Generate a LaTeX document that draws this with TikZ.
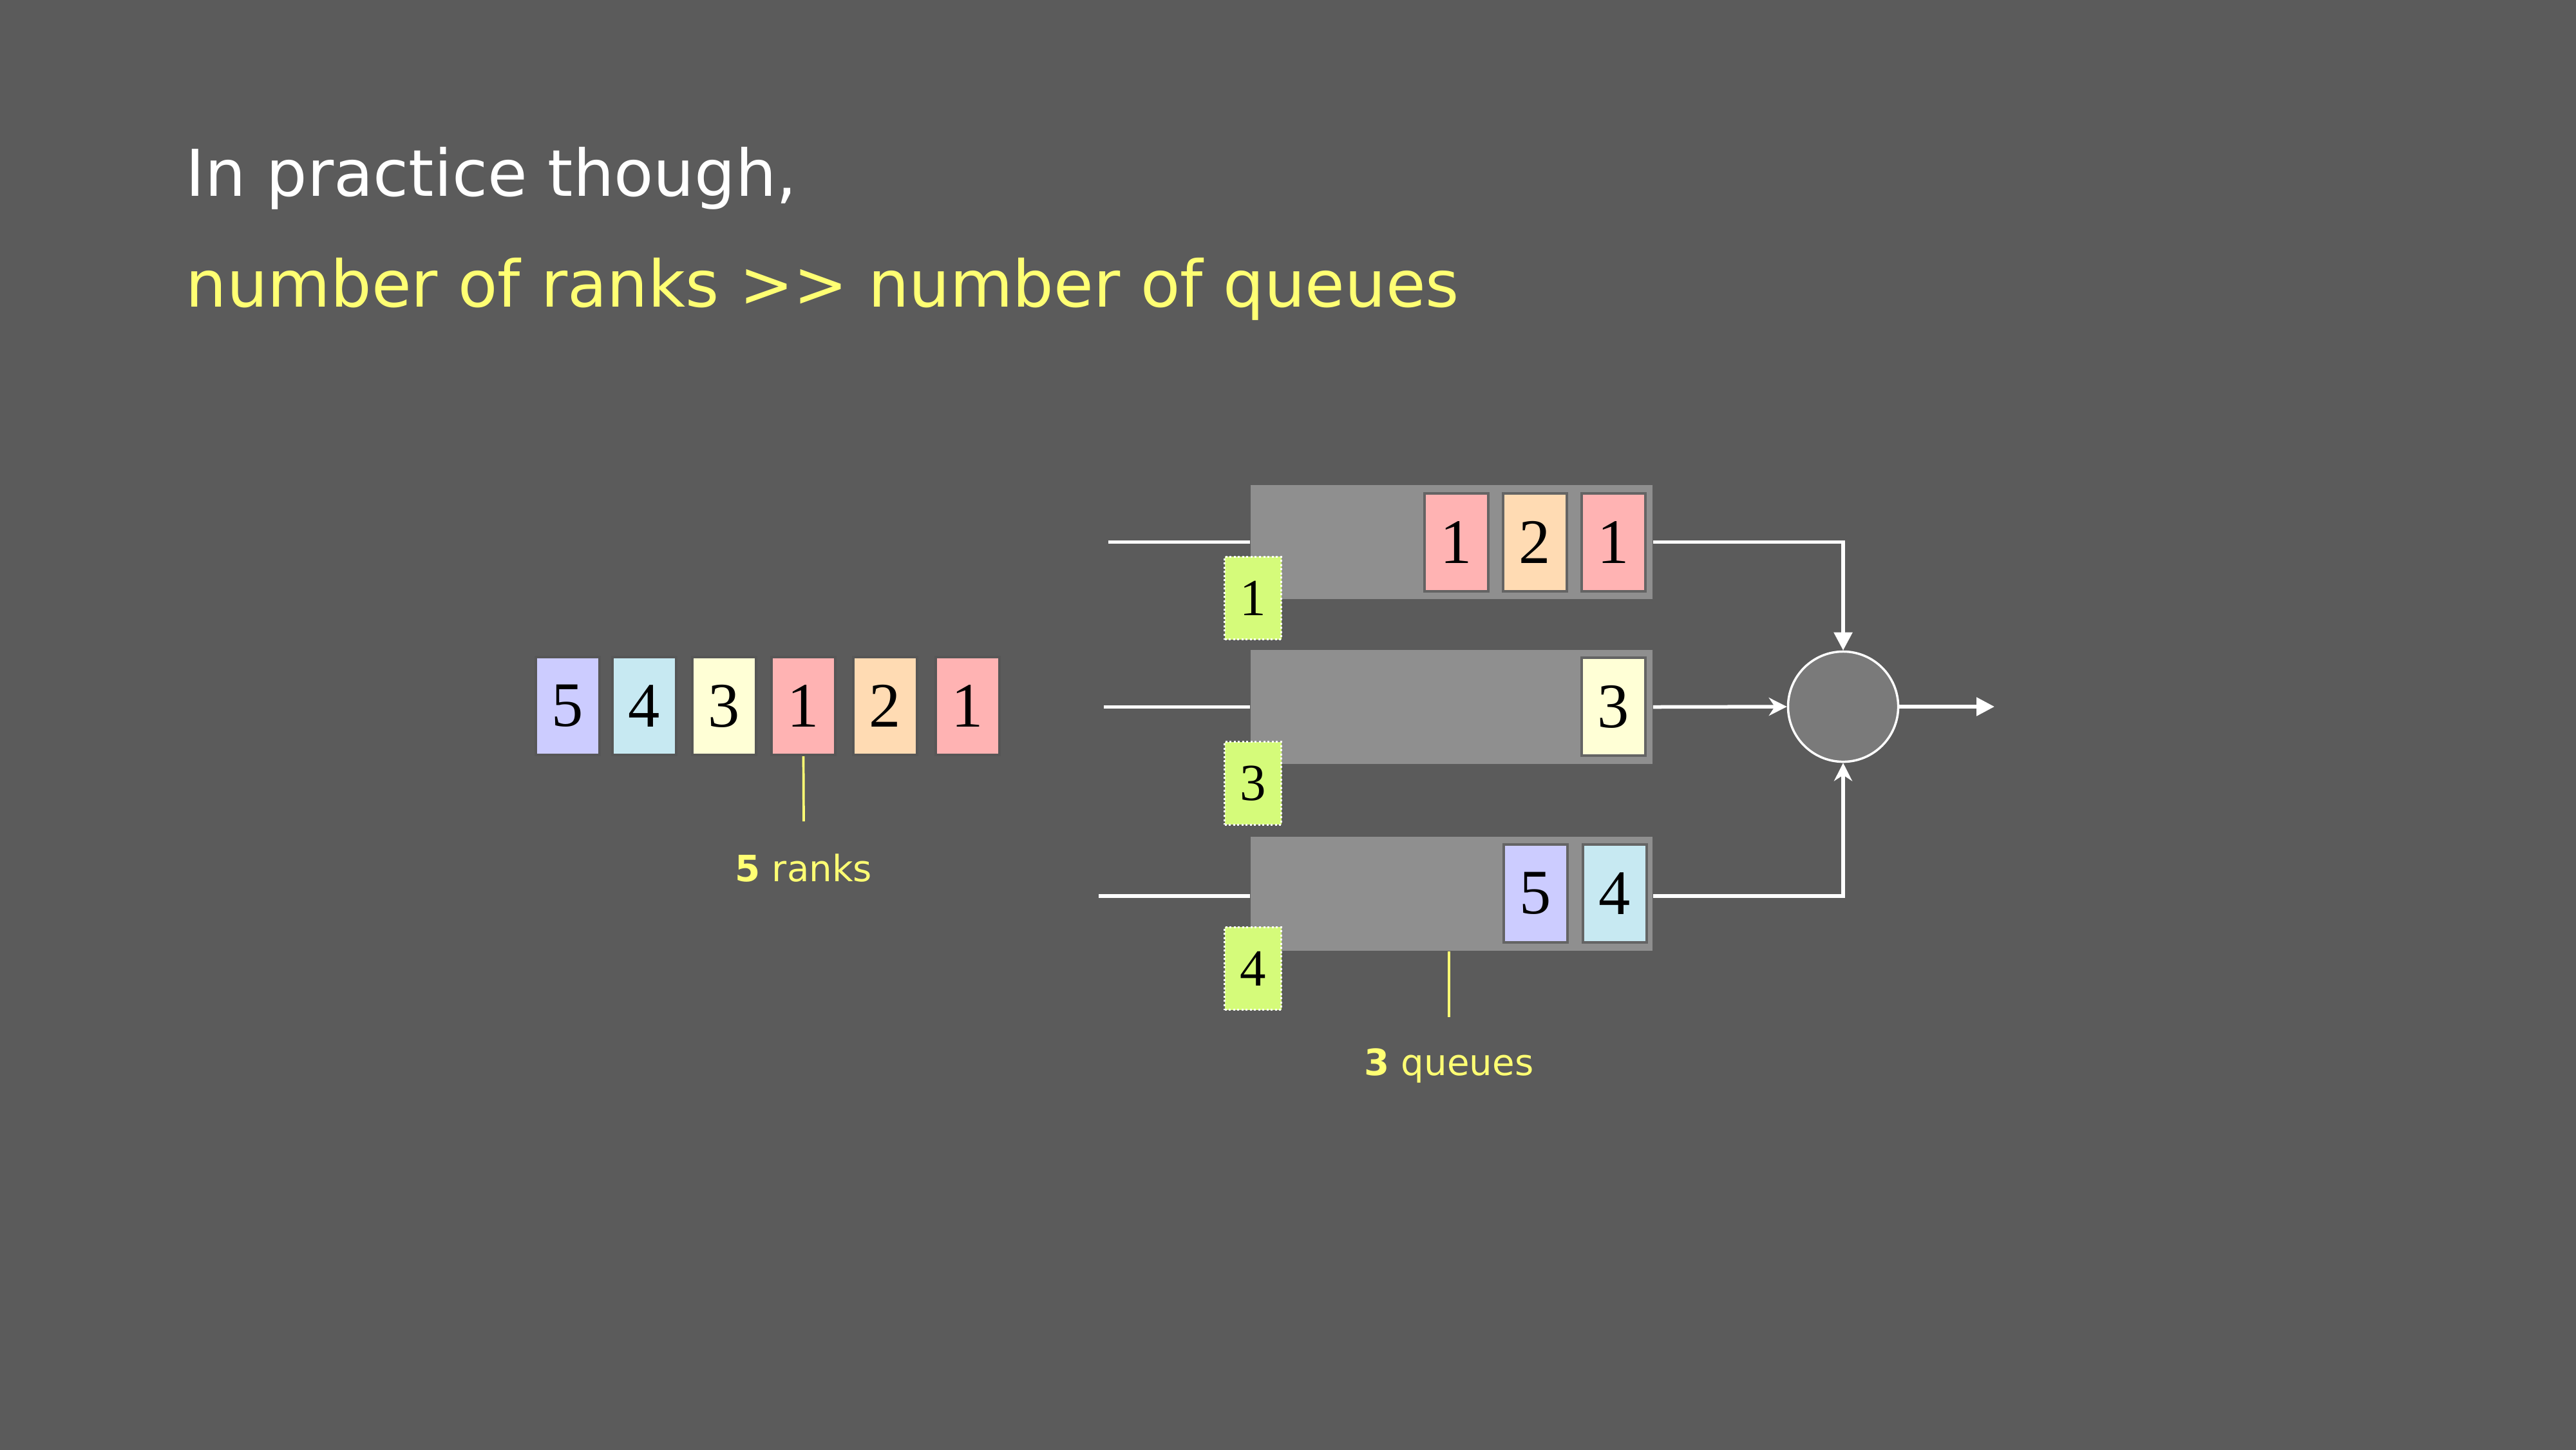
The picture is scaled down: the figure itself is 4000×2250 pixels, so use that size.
\documentclass[tikz,border=0pt]{standalone}
\usepackage{fontspec}
\setmainfont{DejaVu Sans}
\newfontfamily\digitfont{Liberation Serif}
\usepackage{tikz}
\usetikzlibrary{arrows.meta, positioning}

\definecolor{slide}{HTML}{5B5B5B}
\definecolor{qgray}{HTML}{8F8F8F}
\definecolor{muxgray}{HTML}{7A7A7A}
\definecolor{pktedge}{HTML}{646464}
\definecolor{hilite}{HTML}{FFFF73}
\definecolor{tagfill}{HTML}{D5FB7A}
\definecolor{rankone}{HTML}{FFB3B3}
\definecolor{ranktwo}{HTML}{FFDBB3}
\definecolor{rankthree}{HTML}{FFFFD6}
\definecolor{rankfour}{HTML}{C7E9F2}
\definecolor{rankfive}{HTML}{CCCCFF}

\tikzset{
  pkt/.style={draw=pktedge, line width=0.04cm, minimum width=0.99cm, minimum height=1.52cm,
    inner sep=0pt, font=\digitfont\fontsize{28}{28}\selectfont},
  loosepkt/.style={pkt, draw=slide!95!black},
  queuebox/.style={fill=qgray, minimum width=6.24cm, minimum height=1.77cm, inner sep=0pt},
  tagbox/.style={fill=tagfill, draw=white, densely dotted, line width=0.03cm, minimum width=0.88cm,
    minimum height=1.28cm, inner sep=0pt, font=\digitfont\fontsize{23}{23}\selectfont},
  link/.style={draw=white, line width=0.055cm},
  note/.style={draw=hilite, line width=0.037cm},
  lbl/.style={text=hilite, inner sep=0pt, font=\fontsize{16}{19}\selectfont},
  headline/.style={anchor=base west, inner sep=0pt, font=\fontsize{28.5}{34}\selectfont}
}

\begin{document}
\begin{tikzpicture}[x=0.01cm, y=-0.01cm]
  \useasboundingbox (0,0) rectangle (4000,2250);
  \fill[slide] (-20,-20) rectangle (4020,2270);

  % heading
  \node[headline, text=white] (head) at (288,304) {In practice though,};
  \node[headline, text=hilite] (claim) at (288,476) {number of ranks >{}> number of queues};

  % incoming packets
  \node[loosepkt, fill=rankfive]  (r5) at (881.5,1096)  {5};
  \node[loosepkt, fill=rankfour]  (r4) at (1000.5,1096) {4};
  \node[loosepkt, fill=rankthree] (r3) at (1124.5,1096) {3};
  \node[loosepkt, fill=rankone]   (r1) at (1247.5,1096) {1};
  \node[loosepkt, fill=ranktwo]   (r2) at (1374.5,1096) {2};
  \node[loosepkt, fill=rankone]   (r0) at (1502.5,1096) {1};
  \coordinate (rk) at (1248,1275);
  \draw[note] (r1.south) -- (rk);
  \node[lbl, anchor=base] (ranks) at (1248,1368) {\textbf{5} ranks};

  % queues
  \node[queuebox] (q1) at (2254,841.5)  {};
  \node[queuebox] (q2) at (2254,1097.5) {};
  \node[queuebox] (q3) at (2254,1387.5) {};

  \node[pkt, fill=rankone]   (q1a) at (2261,842)    {1};
  \node[pkt, fill=ranktwo]   (q1b) at (2383,842)    {2};
  \node[pkt, fill=rankone]   (q1c) at (2505.5,842)  {1};
  \node[pkt, fill=rankthree] (q2a) at (2505.5,1097) {3};
  \node[pkt, fill=rankfive]  (q3a) at (2384.5,1387) {5};
  \node[pkt, fill=rankfour]  (q3b) at (2507,1387)   {4};

  % queue tags
  \node[tagbox] (t1) at (1945.5,928.5)  {1};
  \node[tagbox] (t2) at (1945.5,1216)   {3};
  \node[tagbox] (t3) at (1945.5,1503.5) {4};

  % inputs
  \coordinate (in1) at (1721,841.5);
  \coordinate (in2) at (1714,1097.5);
  \coordinate (in3) at (1706,1391);
  \draw[link] (in1) -- (q1.west);
  \draw[link] (in2) -- (q2.west);
  \draw[link] (in3) -- (in3 -| q3.west);

  % scheduler
  \node[circle, draw=white, line width=0.035cm, fill=muxgray, minimum size=1.71cm, inner sep=0pt] (mux) at (2862,1097) {};
  \coordinate (out) at (3097,1097);
  \draw[link, -{Triangle[length=0.28cm, width=0.28cm]}] (q1.east) -| (mux.north);
  \draw[link, -{Stealth[length=0.28cm, width=0.28cm]}] (q2.east) -- (mux.west);
  \draw[link, -{Stealth[length=0.28cm, width=0.28cm]}] (q3.east |- in3) -| (mux.south);
  \draw[link, -{Triangle[length=0.28cm, width=0.28cm]}] (mux.east) -- (out);

  \coordinate (qu) at (2250,1579);
  \draw[note] (qu |- q3.south) -- (qu);
  \node[lbl, anchor=base] (queues) at (2250,1669) {\textbf{3} queues};
\end{tikzpicture}
\end{document}
